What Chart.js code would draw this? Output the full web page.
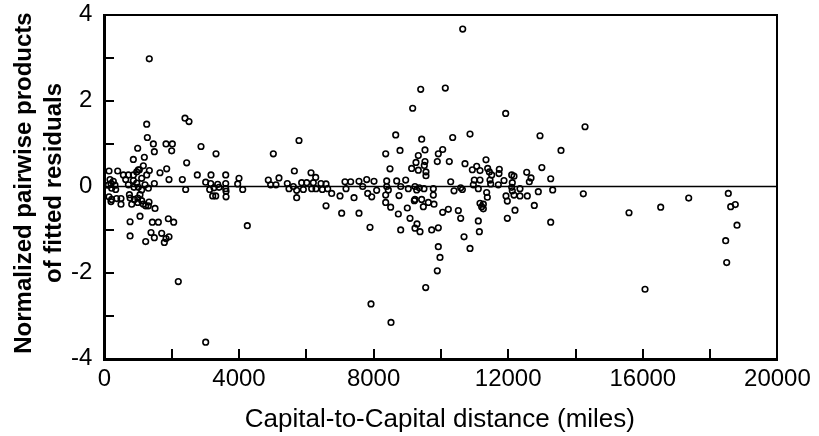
<!DOCTYPE html>
<html>
<head>
<meta charset="utf-8">
<script src="https://cdn.jsdelivr.net/npm/chart.js@4/dist/chart.umd.min.js"></script>
<style>
  html, body { margin: 0; padding: 0; background: #fff; }
  #c { display: block; }
</style>
</head>
<body>
<canvas id="c" width="819" height="436"></canvas>
<script>
// ---- data ----
// distances (miles) and normalized pairwise products, grouped by distance band
const nearDist = [1257,2395,2514,1276,1455,989,1484,1831,2019,1999,860,1187,2445,1157,1008,137,395,564,713,862,961,1039,1336,1257,1108,1652,1851,1920,2316,166,265,196,117,315,216,335,633,713,862,961,1008,881,1108,1207,1306,1484,2415,137,216,364,493,493,196,743,763,892,812,991,1058,1108,991,1157,1227,1326,1306,1504,1058,763,1425,1603,1900,2059,763,1227,1385,1484,1702,1831,1920,1781,1334,2196,3010];
const nearProd = [1.45,1.59,1.51,1.14,0.99,0.89,0.81,0.99,0.99,0.83,0.63,0.68,0.55,0.48,0.39,0.36,0.36,0.27,0.27,0.27,0.34,0.39,0.37,0.27,0.19,0.32,0.41,0.16,0.16,0.16,0.12,0.07,0.03,0.03,-0.04,-0.07,0.16,0.04,0.14,0.08,-0.02,-0.02,-0.08,0.04,-0.04,0.07,-0.07,-0.24,-0.30,-0.28,-0.28,-0.41,-0.35,-0.19,-0.27,-0.30,-0.41,-0.27,-0.19,-0.33,-0.37,-0.41,-0.45,-0.36,-0.45,-0.51,-0.69,-0.82,-0.83,-0.83,-0.75,-0.83,-1.15,-1.28,-1.07,-1.19,-1.09,-1.21,-1.17,-1.30,2.97,-2.21,-3.62];

const midDist = [2871,3317,2761,3168,3605,3010,3159,3367,3605,4000,3961,3129,3257,3406,3605,3615,4110,3218,3308,3615,4247,4871,5020,4941,5099,5188,5436,5645,5486,5615,5714,5714,5783,5912,5862,6012,6140,6279,6209,6160,6289,6437,6476,6586,6635,6754,6586,7002,7051,7150,7319,7180,7418,7566,7566,7795,7676,7825,7944,8012,8091,7893,7923];
const midProd = [0.93,0.76,0.27,0.27,0.27,0.10,0.07,0.05,0.07,0.19,0.06,-0.07,-0.03,-0.02,-0.05,-0.11,-0.07,-0.22,-0.22,-0.24,-0.91,0.15,0.76,0.04,0.04,0.20,0.07,0.36,-0.05,0.0,-0.09,-0.26,1.07,-0.07,0.09,0.09,0.32,0.21,0.09,-0.05,-0.05,0.07,-0.07,0.06,-0.05,-0.16,-0.45,-0.22,-0.62,0.11,0.11,-0.05,-0.26,0.12,-0.62,0.16,0.0,-0.16,-0.24,0.12,-0.09,-0.95,-2.73];

const denseDist = [9161,8657,9429,8360,8785,9527,9329,9923,8487,9260,9527,9507,9131,9329,9556,9556,9893,8389,8686,8953,8389,8438,8805,9032,9230,9280,9359,9497,9775,8359,8755,9230,9775,8359,8507,9002,9210,9428,9478,9627,9795,8735,9082,9290,8805,9230,9379,9726,9923,9923,9973,9893,9548,8517,9400,10131,10648,11925,10350,10865,10053,10250,10716,11064,11340,10934,11162,11390,11440,11509,11736,11726,10993,11162,11459,11875,10291,10964,11479,11707,10390,10588,10638,11112,11360,11380,11935,11974,11162,11261,11211,11261,10053,10221,10518,10588,11112,11974,11143,10687,10865,12945,13569,13000,12104,12172,12550,12678,12628,13263,12122,12104,12350,12122,12172,12350,12568,12895,13322,12776,12202,13263];
const denseProd = [1.82,1.20,1.10,0.76,0.84,0.85,0.72,0.76,0.41,0.56,0.58,0.49,0.42,0.38,0.34,0.25,0.58,0.13,0.13,0.15,0.0,-0.08,0.0,-0.05,0.0,-0.08,-0.03,-0.05,-0.05,-0.20,-0.21,-0.30,-0.20,-0.37,-0.48,-0.50,-0.33,-0.30,-0.47,-0.37,-0.41,-0.64,-0.74,-0.87,-1.01,-0.97,-1.05,-1.01,-0.96,-1.40,-1.65,-1.96,-2.35,-3.16,2.26,2.29,3.66,1.70,1.14,1.22,0.86,0.58,0.53,0.47,0.62,0.39,0.37,0.42,0.34,0.27,0.40,0.30,0.15,0.15,0.15,0.14,0.11,0.04,0.06,0.04,-0.10,-0.03,-0.07,-0.05,-0.14,-0.25,-0.22,-0.34,-0.39,-0.41,-0.47,-0.52,-0.60,-0.53,-0.56,-0.74,-0.80,-0.74,-1.05,-1.17,-1.44,1.18,0.84,0.44,0.27,0.24,0.33,0.20,0.11,0.18,0.09,-0.02,-0.05,-0.10,-0.20,-0.22,-0.22,-0.12,-0.08,-0.44,-0.55,-0.83];

const farDist = [14283,14232,15590,16532,17364,16066,18541,18612,18749,18800,18463,18493];
const farProd = [1.39,-0.17,-0.61,-0.48,-0.27,-2.39,-0.16,-0.47,-0.42,-0.90,-1.26,-1.77];

// axis settings
const xTickValues = [0, 4000, 8000, 12000, 16000, 20000];
const xMinorStep = 2000;
const yTickValues = [-4, -2, 0, 2, 4];
const yMinorStep = 1;
const referenceLevel = 0;

const xTitle = 'Capital-to-Capital distance (miles)';
const yTitleLines = ['Normalized pairwise products', 'of fitted residuals'];

// build the point list from the named arrays
function pairs(xs, ys) { return xs.map((v, i) => ({ x: v, y: ys[i] })); }
const points = [].concat(
  pairs(nearDist, nearProd),
  pairs(midDist, midProd),
  pairs(denseDist, denseProd),
  pairs(farDist, farProd)
);

const FONT = "'Liberation Sans', Arial, sans-serif";

const frameAndTicks = {
  id: 'frameAndTicks',
  afterDraw(chart) {
    const ctx = chart.ctx;
    const a = chart.chartArea;
    const xs = chart.scales.x, ys = chart.scales.y;
    ctx.save();
    ctx.fillStyle = '#000';
    const L = Math.round(a.left), R = Math.round(a.right), T = Math.round(a.top), B = Math.round(a.bottom);
    // frame
    ctx.fillRect(L - 1, T - 1, R - L + 2, 2);
    ctx.fillRect(L - 1, B - 1, R - L + 2, 3);
    ctx.fillRect(L - 1, T - 1, 3, B - T + 3);
    ctx.fillRect(R - 1, T - 1, 2, B - T + 3);
    // inward tick marks, placed through the scales
    for (let v = xs.min; v <= xs.max; v += xMinorStep) {
      const px = Math.round(xs.getPixelForValue(v));
      ctx.fillRect(px - 1, B - 10, 2, 10);
    }
    for (let v = ys.min; v <= ys.max; v += yMinorStep) {
      const py = Math.round(ys.getPixelForValue(v));
      ctx.fillRect(L, py - 1, 10, 2);
    }
    // x title
    ctx.font = '26px ' + FONT;
    ctx.textAlign = 'center';
    ctx.textBaseline = 'alphabetic';
    ctx.fillText(xTitle, (a.left + a.right) / 2 - 1, 427);
    // y title (two lines, rotated)
    ctx.font = 'bold 24px ' + FONT;
    ctx.translate(0, 183);
    ctx.rotate(-Math.PI / 2);
    ctx.fillText(yTitleLines[0], 0, 31);
    ctx.fillText(yTitleLines[1], 0, 61);
    ctx.restore();
  }
};

new Chart(document.getElementById('c'), {
  data: {
    datasets: [
      {
        type: 'line',
        data: [{ x: 0, y: referenceLevel }, { x: 20000, y: referenceLevel }],
        borderColor: '#000',
        borderWidth: 1.7,
        pointRadius: 0,
        fill: false,
        order: 2
      },
      {
        type: 'scatter',
        data: points,
        borderColor: '#000',
        backgroundColor: 'rgba(255,255,255,0)',
        pointRadius: 2.8,
        borderWidth: 1.6,
        pointBorderWidth: 1.6,
        pointStyle: 'circle',
        order: 1
      }
    ]
  },
  options: {
    responsive: false,
    animation: false,
    events: [],
    layout: { autoPadding: false, padding: { left: 0, right: 41.6, top: 14.5, bottom: 0 } },
    plugins: { legend: { display: false }, tooltip: { enabled: false } },
    scales: {
      x: {
        type: 'linear',
        min: 0, max: 20000,
        grid: { display: false, drawTicks: false },
        border: { display: false },
        ticks: {
          stepSize: xMinorStep,
          padding: 6,
          color: '#000',
          font: { family: FONT, size: 24 },
          maxRotation: 0,
          autoSkip: false,
          callback: v => (xTickValues.includes(v) ? String(v) : '')
        },
        afterFit: s => { s.height = 77.5; s.paddingLeft = 0; s.paddingRight = 0; }
      },
      y: {
        type: 'linear',
        min: -4, max: 4,
        grid: { display: false, drawTicks: false },
        border: { display: false },
        ticks: {
          stepSize: yMinorStep,
          padding: 12,
          color: '#000',
          font: { family: FONT, size: 24 },
          autoSkip: false,
          callback: v => (yTickValues.includes(v) ? String(v) : '')
        },
        afterFit: s => { s.width = 104.4; s.paddingTop = 0; s.paddingBottom = 0; }
      }
    }
  },
  plugins: [frameAndTicks]
});
</script>
</body>
</html>
